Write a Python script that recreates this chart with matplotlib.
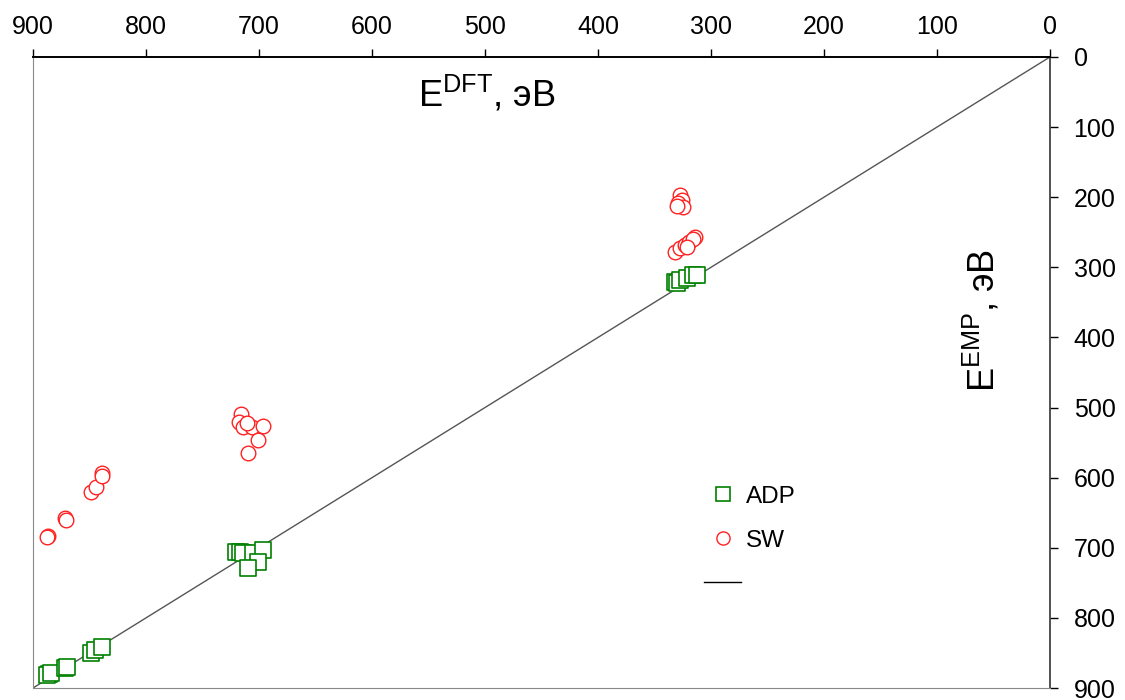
import matplotlib
matplotlib.use("Agg")
import matplotlib.pyplot as plt
from matplotlib.lines import Line2D

plt.rcParams["font.family"] = ["Liberation Sans", "DejaVu Sans"]
plt.rcParams["mathtext.fontset"] = "custom"
plt.rcParams["mathtext.rm"] = "Liberation Sans"

# ── Data (E_DFT, E_EMP in eV) ────────────────────────────────────────────────
adp_dft = [886, 888, 884, 872, 870, 849, 845, 839,
           720, 717, 714, 705, 696, 701, 710,
           332, 330, 327, 321, 316, 312]
adp_emp = [880, 882, 879, 872, 870, 850, 846, 842,
           706, 706, 708, 708, 703, 720, 729,
           321, 323, 318, 315, 311, 311]

sw_dft = [887, 888, 872, 871, 849, 844, 839, 839,
          716, 718, 714, 706, 696, 701, 710, 711,
          327, 326, 329, 325, 330,
          332, 327, 323, 319, 314, 316, 321]
sw_emp = [683, 685, 657, 660, 620, 613, 593, 598,
          509, 520, 528, 528, 526, 546, 565, 522,
          197, 204, 208, 214, 213,
          278, 272, 268, 264, 257, 260, 271]

line_x = [0, 900]
line_y = [0, 900]

x_ticks = [900, 800, 700, 600, 500, 400, 300, 200, 100, 0]
y_ticks = [0, 100, 200, 300, 400, 500, 600, 700, 800, 900]

# ── Figure ────────────────────────────────────────────────────────────────────
fig = plt.figure(figsize=(11.25, 7), dpi=100)
ax = fig.add_axes([0.0293, 0.0171, 0.9040, 0.9015])

ax.plot(line_x, line_y, color="#555555", linewidth=1.0, zorder=1)
ax.scatter(adp_dft, adp_emp, marker="s", s=11 ** 2, facecolors="white",
           edgecolors="#008000", linewidths=1.2, zorder=2)
ax.scatter(sw_dft, sw_emp, marker="o", s=10.5 ** 2, facecolors="white",
           edgecolors="#ff2020", linewidths=1.0, zorder=3)

ax.set_xlim(900, 0)
ax.set_ylim(900, 0)
ax.set_xticks(x_ticks)
ax.set_yticks(y_ticks)

ax.xaxis.tick_top()
ax.yaxis.tick_right()
ax.tick_params(axis="x", direction="out", length=6, width=1.0,
               labelsize=18, pad=7, colors="black")
ax.tick_params(axis="y", direction="out", length=6, width=1.0,
               labelsize=18, pad=11, colors="black")

ax.spines["top"].set_color("black")
ax.spines["top"].set_linewidth(1.4)
ax.spines["right"].set_color("#333333")
ax.spines["right"].set_linewidth(1.2)
ax.spines["left"].set_color("#888888")
ax.spines["bottom"].set_color("#888888")

ax.text(0.446, 0.94, r"E$^{\mathrm{DFT}}$, эВ", transform=ax.transAxes,
        ha="center", va="center", fontsize=26)
ax.text(0.934, 0.583, r"E$^{\mathrm{EMP}}$, эВ", transform=ax.transAxes,
        ha="center", va="center", fontsize=26, rotation=90)

handles = [
    Line2D([], [], marker="s", linestyle="none", markersize=9.5,
           markerfacecolor="white", markeredgecolor="#008000", markeredgewidth=1.2),
    Line2D([], [], marker="o", linestyle="none", markersize=9.5,
           markerfacecolor="white", markeredgecolor="#ff2020", markeredgewidth=1.0),
    Line2D([], [], color="black", linewidth=1.0),
]
ax.legend(handles, ["ADP", "SW", ""], loc="upper left",
          bbox_to_anchor=(0.638, 0.355), frameon=False, fontsize=17.5,
          handlelength=1.55, labelspacing=0.9, handletextpad=0.2)

fig.savefig("out.png", dpi=100)
